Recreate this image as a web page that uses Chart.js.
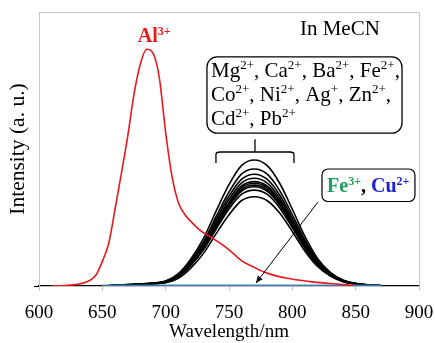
<!DOCTYPE html>
<html lang="en">
<head>
  <meta charset="UTF-8" />
  <title>Emission spectra in MeCN</title>
  <script src="https://cdn.jsdelivr.net/npm/chart.js"></script>
  <style>
    html, body { margin: 0; padding: 0; background: #fff; }
  </style>
</head>
<body>
  <canvas id="grafico" width="435" height="343"></canvas>

  <script>
    // wavelengths (nm)
    const wlAl = [610, 620, 630, 640, 645, 650, 655, 660, 665, 670, 675, 680, 685, 690, 695, 700, 705, 710, 715, 720, 727, 735, 745, 753, 760, 769, 780, 795, 814, 830, 843, 848];
    const wlMetal = [650, 660, 670, 680, 690, 700, 710, 720, 730, 740, 750, 760, 770, 780, 790, 800, 810, 820, 830, 840, 850, 860, 870, 880];
    const wlFlat = [650, 670, 690, 710, 730, 750, 770, 790, 810, 830, 850, 870];

    // intensities (a. u.)
    const al = [0, 2, 6, 20, 40, 90, 155, 280, 410, 545, 700, 810, 864, 850, 760, 560, 400, 305, 262, 235, 204, 180, 150, 120, 92, 70, 47, 29, 16, 9, 4, 0];
    const mg = [0, 3, 5, 8, 11, 18, 45, 100, 175, 275, 370, 440, 460, 440, 375, 280, 180, 100, 50, 22, 10, 4, 1, 0];
    const ca = [0, 3, 5, 7, 10, 17, 42, 93, 162, 255, 343, 409, 427, 409, 348, 260, 167, 93, 47, 20, 9, 4, 1, 0];
    const ba = [0, 3, 4, 7, 10, 16, 40, 89, 155, 244, 328, 390, 408, 390, 332, 248, 160, 89, 44, 20, 9, 4, 1, 0];
    const fe2 = [0, 3, 4, 7, 9, 15, 39, 85, 149, 235, 316, 376, 393, 376, 320, 239, 154, 85, 43, 19, 9, 4, 1, 0];
    const co = [0, 2, 4, 6, 9, 15, 37, 83, 145, 228, 306, 365, 381, 365, 311, 232, 149, 83, 42, 18, 8, 3, 1, 0];
    const ni = [0, 2, 4, 6, 9, 15, 37, 81, 143, 224, 302, 359, 375, 359, 306, 228, 147, 81, 41, 18, 8, 3, 1, 0];
    const ag = [0, 2, 4, 6, 9, 14, 36, 80, 140, 220, 296, 352, 368, 352, 300, 224, 144, 80, 40, 18, 8, 3, 1, 0];
    const zn = [0, 2, 4, 6, 9, 14, 35, 79, 138, 216, 291, 346, 362, 346, 295, 220, 142, 79, 39, 17, 8, 3, 1, 0];
    const cd = [0, 2, 4, 6, 8, 14, 34, 76, 133, 209, 281, 335, 350, 335, 285, 213, 137, 76, 38, 17, 8, 3, 1, 0];
    const pb = [0, 2, 4, 6, 8, 12, 28, 66, 120, 192, 260, 312, 326, 312, 266, 199, 127, 71, 36, 16, 7, 3, 1, 0];
    const fe3 = [2, 2, 2, 2, 2, 2, 2, 2, 2, 2, 2, 2];
    const cu = [2, 2, 2, 2, 2, 2, 2, 2, 2, 2, 2, 2];

    const xTicks = [600, 650, 700, 750, 800, 850, 900];

    const serif = '"Liberation Serif", "Times New Roman", serif';
    Chart.defaults.font.family = serif;
    Chart.defaults.color = '#000';

    function pts(xs, ys) {
      return xs.map((x, i) => ({ x: x, y: ys[i] }));
    }

    function serie(label, xs, ys, color, width) {
      return {
        label: label,
        data: pts(xs, ys),
        borderColor: color,
        borderWidth: width,
        pointRadius: 0,
        fill: false,
        cubicInterpolationMode: 'monotone'
      };
    }

    // text with superscripts written as {..}, returns end x
    function richText(ctx, x, y, str, size, bold, color) {
      const parts = str.split(/(\{[^}]*\})/).filter(s => s.length);
      parts.forEach(p => {
        const sup = p[0] === '{';
        const t = sup ? p.slice(1, -1) : p;
        const fs = sup ? Math.round(size * 0.6) : size;
        ctx.font = (bold ? 'bold ' : '') + fs + 'px ' + serif;
        ctx.fillStyle = color || '#000';
        ctx.fillText(t, x, sup ? y - size * 0.36 : y);
        x += ctx.measureText(t).width;
      });
      return x;
    }

    function roundRect(ctx, x0, y0, x1, y1, r) {
      ctx.beginPath();
      ctx.moveTo(x0 + r, y0);
      ctx.arcTo(x1, y0, x1, y1, r);
      ctx.arcTo(x1, y1, x0, y1, r);
      ctx.arcTo(x0, y1, x0, y0, r);
      ctx.arcTo(x0, y0, x1, y0, r);
      ctx.closePath();
      ctx.fillStyle = '#fff';
      ctx.fill();
      ctx.stroke();
    }

    const frame = {
      id: 'frame',
      beforeDatasetsDraw(chart) {
        const a = chart.chartArea;
        const ctx = chart.ctx;
        ctx.save();
        ctx.strokeStyle = '#c4c4c4';
        ctx.lineWidth = 1;
        ctx.beginPath();
        ctx.moveTo(a.left, a.top + 0.5);
        ctx.lineTo(a.right + 0.5, a.top + 0.5);
        ctx.lineTo(a.right + 0.5, a.bottom);
        ctx.stroke();
        ctx.restore();
      }
    };

    const notas = {
      id: 'notas',
      afterDatasetsDraw(chart) {
        const ctx = chart.ctx;
        const X = v => chart.scales.x.getPixelForValue(v);
        const Y = v => chart.scales.y.getPixelForValue(v);
        ctx.save();
        ctx.textBaseline = 'alphabetic';
        ctx.textAlign = 'left';

        // In MeCN
        ctx.font = '21px ' + serif;
        ctx.fillStyle = '#000';
        ctx.fillText('In MeCN', X(806), Y(916));

        // Al3+
        richText(ctx, X(678), Y(890), 'Al{3+}', 20, true, '#e8191f');

        // list box
        ctx.strokeStyle = '#000';
        ctx.lineWidth = 1.3;
        roundRect(ctx, X(732.6), Y(836), X(886.6), Y(558), 10);
        richText(ctx, X(735.8), Y(763), 'Mg{2+}, Ca{2+}, Ba{2+}, Fe{2+},', 21, false);
        richText(ctx, X(735.8), Y(675), 'Co{2+}, Ni{2+}, Ag{+}, Zn{2+},', 21, false);
        richText(ctx, X(735.8), Y(588), 'Cd{2+}, Pb{2+}', 21, false);

        // bracket
        ctx.beginPath();
        ctx.moveTo(X(739.7), Y(449));
        ctx.lineTo(X(739.7), Y(480));
        ctx.quadraticCurveTo(X(739.7), Y(489), X(743), Y(489));
        ctx.lineTo(X(798), Y(489));
        ctx.quadraticCurveTo(X(801.3), Y(489), X(801.3), Y(480));
        ctx.lineTo(X(801.3), Y(449));
        ctx.moveTo(X(770.5), Y(489));
        ctx.lineTo(X(770.5), Y(536));
        ctx.stroke();

        // Fe3+, Cu2+ box
        ctx.lineWidth = 1.2;
        roundRect(ctx, X(823.4), Y(427), X(896.8), Y(308.4), 6);
        let tx = richText(ctx, X(827.4), Y(343), 'Fe{3+}', 20, true, '#1e9e5a');
        tx = richText(ctx, tx, Y(343), ', ', 20, true, '#000');
        richText(ctx, tx, Y(343), 'Cu{2+}', 20, true, '#1f1fd6');

        // arrow
        const x0 = X(820.3), y0 = Y(306.6), x1 = X(771.3), y1 = Y(11);
        ctx.lineWidth = 1;
        ctx.beginPath();
        ctx.moveTo(x0, y0);
        ctx.lineTo(x1, y1);
        ctx.stroke();
        const ang = Math.atan2(y1 - y0, x1 - x0);
        ctx.beginPath();
        ctx.moveTo(x1, y1);
        ctx.lineTo(x1 - 7 * Math.cos(ang) + 3 * Math.sin(ang), y1 - 7 * Math.sin(ang) - 3 * Math.cos(ang));
        ctx.lineTo(x1 - 7 * Math.cos(ang) - 3 * Math.sin(ang), y1 - 7 * Math.sin(ang) + 3 * Math.cos(ang));
        ctx.closePath();
        ctx.fillStyle = '#000';
        ctx.fill();
        ctx.restore();
      }
    };

    new Chart(document.getElementById('grafico'), {
      type: 'line',
      data: {
        datasets: [
          serie('Al3+', wlAl, al, '#e8191f', 1.6),
          serie('Cu2+', wlFlat, cu, '#3f78c0', 1.4),
          serie('Fe3+', wlFlat, fe3, '#2ca05a', 1.4),
          serie('Mg2+', wlMetal, mg, '#000', 1.6),
          serie('Ca2+', wlMetal, ca, '#000', 1.6),
          serie('Ba2+', wlMetal, ba, '#000', 1.6),
          serie('Fe2+', wlMetal, fe2, '#000', 1.6),
          serie('Co2+', wlMetal, co, '#000', 1.6),
          serie('Ni2+', wlMetal, ni, '#000', 1.6),
          serie('Ag+', wlMetal, ag, '#000', 1.6),
          serie('Zn2+', wlMetal, zn, '#000', 1.6),
          serie('Cd2+', wlMetal, cd, '#000', 1.6),
          serie('Pb2+', wlMetal, pb, '#000', 1.6)
        ]
      },
      options: {
        responsive: false,
        animation: false,
        layout: { padding: { left: 0, right: 16, top: 12, bottom: 0 } },
        plugins: {
          legend: { display: false },
          tooltip: { enabled: false }
        },
        scales: {
          x: {
            type: 'linear',
            min: 600,
            max: 900,
            afterBuildTicks: s => { s.ticks = xTicks.map(v => ({ value: v })); },
            afterFit: s => { s.height = 57; s.paddingLeft = 0; s.paddingRight = 0; },
            ticks: { font: { size: 19 }, color: '#000', padding: 11, maxRotation: 0 },
            grid: { drawOnChartArea: false, tickLength: 5, color: '#c4c4c4' },
            border: { color: '#000', width: 1.3 },
            title: { display: true, text: 'Wavelength/nm', font: { size: 19 }, color: '#000', padding: { top: 0, bottom: 0 } }
          },
          y: {
            min: 0,
            max: 1000,
            afterBuildTicks: s => { s.ticks = [{ value: 0 }]; },
            afterFit: s => { s.width = 39; },
            ticks: { display: false },
            grid: { drawOnChartArea: false, tickLength: 5, color: '#000' },
            border: { color: '#c4c4c4', width: 1 },
            title: { display: true, text: 'Intensity (a. u.)', font: { size: 21.5 }, color: '#000', padding: { top: 5, bottom: 0 } }
          }
        }
      },
      plugins: [frame, notas]
    });
  </script>
</body>
</html>
